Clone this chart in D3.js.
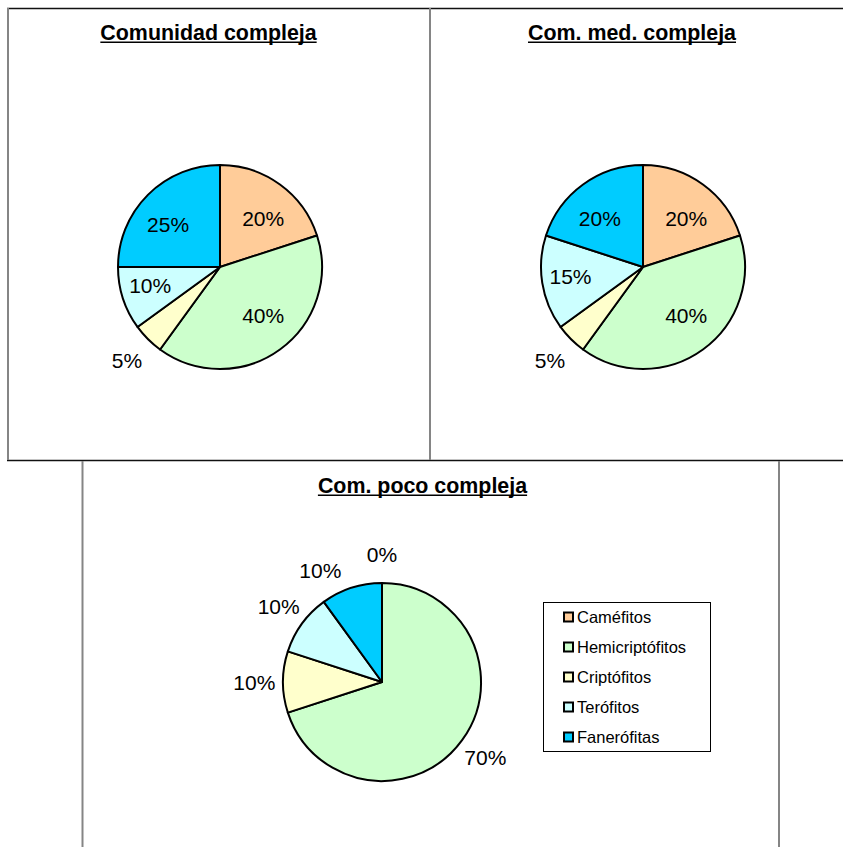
<!DOCTYPE html>
<html>
<head>
<meta charset="utf-8">
<script src="https://cdn.jsdelivr.net/npm/d3@7"></script>
<style>
  html, body { margin: 0; padding: 0; background: #fff; }
  svg { display: block; }
</style>
</head>
<body>
<svg id="chart" width="843" height="847"></svg>
<script>
// ---- data ----
const categories = ["Caméfitos", "Hemicriptófitos", "Criptófitos", "Terófitos", "Fanerófitas"];
const titles = ["Comunidad compleja", "Com. med. compleja", "Com. poco compleja"];
const valuesComunidad = [20, 40, 5, 10, 25];
const valuesMedia = [20, 40, 5, 15, 20];
const valuesPoco = [0, 70, 10, 10, 10];
const colors = ["#FFCC99", "#CCFFCC", "#FFFFCC", "#CCFFFF", "#00CCFF"];

// ---- layout ----
const svg = d3.select("#chart");
const font = "'Liberation Sans', Arial, Helvetica, sans-serif";

// panel frames
const frame = svg.append("g");
frame.append("line").attr("x1", 7).attr("x2", 843).attr("y1", 8.5).attr("y2", 8.5)
  .attr("stroke", "#111").attr("stroke-width", 1.6);
frame.append("line").attr("x1", 7).attr("x2", 843).attr("y1", 460.5).attr("y2", 460.5)
  .attr("stroke", "#111").attr("stroke-width", 1.6);
[[8, 8, 460], [430, 8, 460], [82.5, 461, 847], [779, 461, 847]].forEach(([x, y1, y2]) => {
  frame.append("line").attr("x1", x).attr("x2", x).attr("y1", y1).attr("y2", y2)
    .attr("stroke", "#858585").attr("stroke-width", 2);
});

const panels = [
  { values: valuesComunidad, title: titles[0], cx: 220, cy: 267, r: 102, tx: 208.5, ty: 40, mode: "best" },
  { values: valuesMedia, title: titles[1], cx: 643, cy: 267, r: 102, tx: 632, ty: 40, mode: "best" },
  { values: valuesPoco, title: titles[2], cx: 382, cy: 682, r: 99, tx: 422.5, ty: 493, mode: "outside" }
];

const pie = d3.pie().sort(null).value(d => d.value);
const labelSize = 21, capH = 15, padX = 25, padY = 6;

panels.forEach(p => {
  // title with underline
  const t = svg.append("text")
    .attr("x", p.tx).attr("y", p.ty)
    .attr("text-anchor", "middle")
    .attr("font-family", font).attr("font-weight", "bold").attr("font-size", 21.4)
    .attr("fill", "#000")
    .text(p.title);
  const tw = t.node().getComputedTextLength();
  svg.append("line")
    .attr("x1", p.tx - tw / 2).attr("x2", p.tx + tw / 2)
    .attr("y1", p.ty + 2.2).attr("y2", p.ty + 2.2)
    .attr("stroke", "#000").attr("stroke-width", 1.6);

  const data = categories.map((c, i) => ({ cat: c, value: p.values[i], color: colors[i] }));
  const arcs = pie(data);
  const arc = d3.arc().innerRadius(0).outerRadius(p.r);
  const g = svg.append("g").attr("transform", `translate(${p.cx},${p.cy})`);

  g.selectAll("path").data(arcs.filter(a => a.data.value > 0)).join("path")
    .attr("d", arc)
    .attr("fill", a => a.data.color)
    .attr("stroke", "#000").attr("stroke-width", 2).attr("stroke-linejoin", "round");

  const placed = [];
  arcs.forEach(a => {
    const label = a.data.value + "%";
    const txt = g.append("text")
      .attr("font-family", font).attr("font-size", labelSize)
      .attr("fill", "#000").attr("text-anchor", "middle")
      .text(label);
    const w = txt.node().getComputedTextLength();
    const inside = p.mode === "best" && a.data.value >= 10;
    let mid = (a.startAngle + a.endAngle) / 2;
    let cx, cy;
    if (inside) {
      cx = Math.sin(mid) * p.r * 0.72;
      cy = -Math.cos(mid) * p.r * 0.59;
    } else {
      const dist = p.r * 1.29;
      const pos = ang => [Math.sin(ang) * dist, -Math.cos(ang) * dist];
      const hit = (x, y) => placed.find(q =>
        Math.abs(x - q.x) < (w + q.w) / 2 + padX && Math.abs(y - q.y) < capH + padY);
      [cx, cy] = pos(mid);
      let guard = 0, other;
      while ((other = hit(cx, cy)) && guard < 300) {
        let diff = mid - other.ang;
        while (diff > Math.PI) diff -= 2 * Math.PI;
        while (diff < -Math.PI) diff += 2 * Math.PI;
        mid += (diff >= 0 ? 1 : -1) * 0.01;
        [cx, cy] = pos(mid);
        guard++;
      }
      placed.push({ x: cx, y: cy, w: w, ang: mid });
    }
    txt.attr("x", cx).attr("y", cy + capH / 2);
  });
});

// legend
const lg = svg.append("g");
lg.append("rect").attr("x", 543.5).attr("y", 602.5).attr("width", 167).attr("height", 149)
  .attr("fill", "#fff").attr("stroke", "#000").attr("stroke-width", 1);
const rowY = d3.scalePoint().domain(categories).range([617, 737]);
categories.forEach((c, i) => {
  const y = rowY(c);
  lg.append("rect").attr("x", 564).attr("y", y - 4.5).attr("width", 9).attr("height", 9)
    .attr("fill", colors[i]).attr("stroke", "#000").attr("stroke-width", 2);
  lg.append("text").attr("x", 577).attr("y", y + 6)
    .attr("font-family", font).attr("font-size", 16.5).attr("fill", "#000")
    .text(c);
});
</script>
</body>
</html>
